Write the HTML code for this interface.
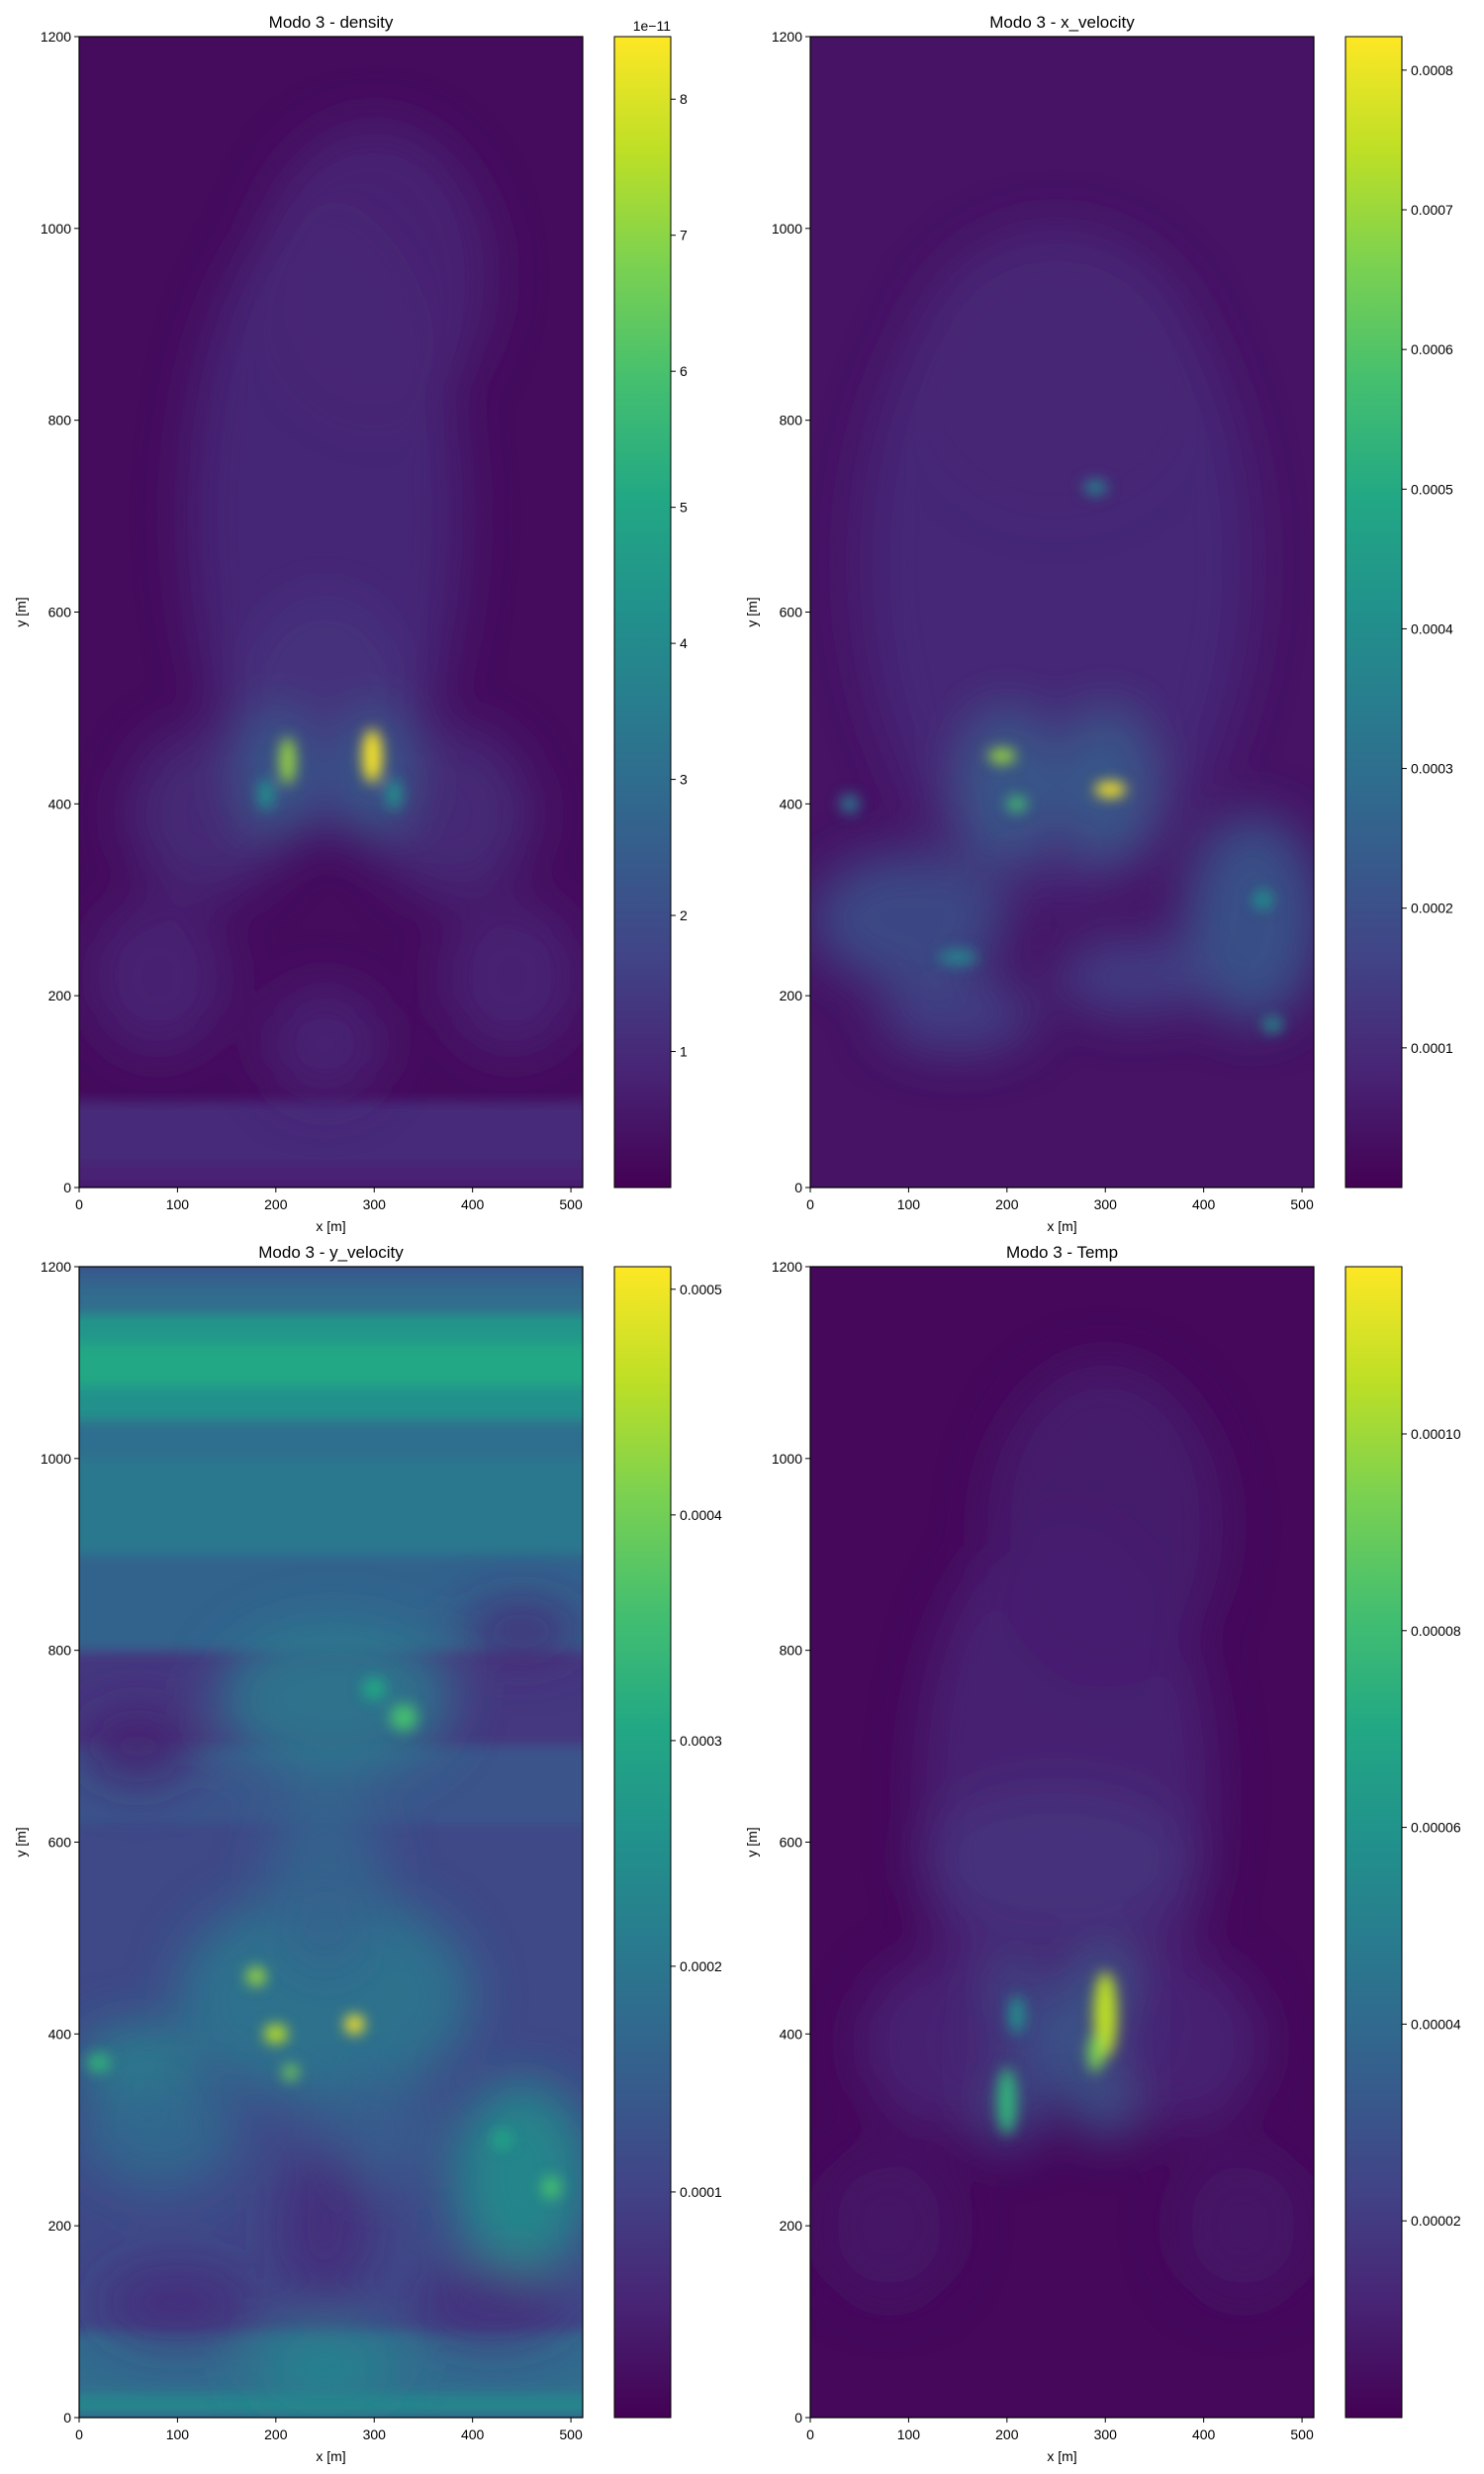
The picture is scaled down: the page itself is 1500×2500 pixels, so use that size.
<!DOCTYPE html>
<html><head><meta charset="utf-8"><style>
html,body{margin:0;padding:0;background:#fff;}
svg{display:block;font-family:"Liberation Sans",sans-serif;}
</style></head><body>
<svg id="fig" width="1500" height="2500" viewBox="0 0 1500 2500">
<defs>
<filter id="b1" x="-50%" y="-50%" width="200%" height="200%"><feGaussianBlur stdDeviation="25"/></filter>
<filter id="b2" x="-50%" y="-50%" width="200%" height="200%"><feGaussianBlur stdDeviation="7"/></filter>
<filter id="b3" x="-20%" y="-20%" width="140%" height="140%"><feGaussianBlur stdDeviation="6"/></filter>
</defs>
</svg>
<script>
const xTicks = [0,100,200,300,400,500];
const yTicks = [0,200,400,600,800,1000,1200];
const titles = ["Modo 3 - density","Modo 3 - x_velocity","Modo 3 - y_velocity","Modo 3 - Temp"];
const cbMin = [0,0,0,0];
const cbMax = [8.46,0.000824,0.000510,0.000117];
const cbTicks0 = [1,2,3,4,5,6,7,8];
const cbLabels0 = ["1","2","3","4","5","6","7","8"];
const cbTicks1 = [0.0001,0.0002,0.0003,0.0004,0.0005,0.0006,0.0007,0.0008];
const cbLabels1 = ["0.0001","0.0002","0.0003","0.0004","0.0005","0.0006","0.0007","0.0008"];
const cbTicks2 = [0.0001,0.0002,0.0003,0.0004,0.0005];
const cbLabels2 = ["0.0001","0.0002","0.0003","0.0004","0.0005"];
const cbTicks3 = [0.00002,0.00004,0.00006,0.00008,0.00010];
const cbLabels3 = ["0.00002","0.00004","0.00006","0.00008","0.00010"];
// field features: [x, y, rx, ry, level(0..1)]
const bg = [0.03,0.05,0.22,0.02];
const bands0 = [[0,25,0.1],[25,90,0.12]];
const bands1 = [];
const bands2 = [[1180,1200,0.3],[1150,1180,0.35],[1120,1150,0.52],[1075,1120,0.6],[1040,1075,0.5],[1000,1040,0.36],[900,1000,0.4],[800,900,0.32],[700,800,0.16],[620,700,0.26],[0,25,0.45],[25,90,0.35]];
const bands3 = [];
const blobs0 = [[250,700,140,330,0.12],[300,950,120,160,0.1],[130,390,80,90,0.13],[380,390,80,90,0.13],[80,220,70,80,0.1],[440,220,70,80,0.1],[250,500,90,120,0.15],[200,430,40,70,0.3],[300,430,40,70,0.3],[250,150,60,60,0.1]];
const spots0 = [[212,445,8,25,0.85],[298,450,10,28,1.0],[190,410,8,16,0.5],[320,410,8,16,0.5]];
const blobs1 = [[250,650,200,350,0.12],[200,420,50,80,0.3],[300,420,50,80,0.3],[100,280,100,70,0.25],[450,280,70,110,0.28],[250,850,150,150,0.1],[150,180,80,40,0.2],[330,220,80,40,0.2]];
const spots1 = [[195,450,14,8,0.85],[305,415,16,8,1.0],[210,400,10,8,0.7],[290,730,12,8,0.45],[460,300,10,10,0.5],[470,170,10,8,0.5],[40,400,10,10,0.4],[150,240,20,8,0.45]];
const blobs2 = [[250,440,150,110,0.4],[60,370,60,40,0.45],[450,250,70,100,0.5],[260,750,120,80,0.42],[80,300,80,60,0.35],[250,560,60,100,0.32],[300,300,60,60,0.3],[250,50,70,40,0.45],[60,700,60,40,0.08],[450,820,60,30,0.1],[250,200,50,80,0.12],[100,120,80,40,0.12],[420,120,80,40,0.12]];
const spots2 = [[200,400,12,10,0.9],[180,460,10,10,0.85],[280,410,10,10,1.0],[215,360,8,8,0.8],[330,730,14,14,0.7],[300,760,12,12,0.6],[480,240,10,12,0.7],[20,370,12,10,0.65],[430,290,10,10,0.6]];
const blobs3 = [[260,650,150,300,0.1],[300,930,120,170,0.08],[250,580,140,80,0.15],[200,380,50,100,0.25],[300,390,50,100,0.3],[130,390,80,90,0.1],[380,390,80,90,0.1],[80,200,70,80,0.06],[440,200,70,80,0.06]];
const spots3 = [[200,330,10,35,0.65],[300,420,12,45,0.9],[290,380,8,20,0.8],[210,420,8,20,0.5]];

const NS="http://www.w3.org/2000/svg";
const fig=document.getElementById('fig');
const VIR=["#440154","#482475","#414487","#355f8d","#2a788e","#21918c","#22a884","#44bf70","#7ad151","#bddf26","#fde725"];
function hex(h){return [1,3,5].map(i=>parseInt(h.substr(i,2),16));}
function vir(t){t=Math.max(0,Math.min(1,t));const f=t*10,i=Math.min(9,Math.floor(f)),r=f-i;const a=hex(VIR[i]),b=hex(VIR[i+1]);return "rgb("+a.map((v,k)=>Math.round(v+(b[k]-v)*r)).join(",")+")";}
function el(tag,attrs,parent){const e=document.createElementNS(NS,tag);for(const k in attrs)e.setAttribute(k,attrs[k]);(parent||fig).appendChild(e);return e;}
function txt(s,attrs,parent){const e=el('text',attrs,parent);e.textContent=s;return e;}

const panels=[
 {ax:80,ay:37,cx:621,bands:bands0,blobs:blobs0,spots:spots0,ticks:cbTicks0,labels:cbLabels0,exp:"1e\u221211"},
 {ax:819,ay:37,cx:1360,bands:bands1,blobs:blobs1,spots:spots1,ticks:cbTicks1,labels:cbLabels1},
 {ax:80,ay:1280,cx:621,bands:bands2,blobs:blobs2,spots:spots2,ticks:cbTicks2,labels:cbLabels2},
 {ax:819,ay:1280,cx:1360,bands:bands3,blobs:blobs3,spots:spots3,ticks:cbTicks3,labels:cbLabels3}
];
const AW=509,AH=1163,CW=57;
panels.forEach((p,i)=>{
  const g=el('g',{});
  
  
  const sx=v=>p.ax+v/512*AW, sy=v=>p.ay+AH-v/1200*AH;
  const cid='clip'+i;
  const cp=el('clipPath',{id:cid},g);el('rect',{x:p.ax,y:p.ay,width:AW,height:AH},cp);
  const hm=el('g',{'clip-path':'url(#'+cid+')'},g);
  
  
  el('rect',{x:p.ax,y:p.ay,width:AW,height:AH,fill:vir(bg[i])},hm);
  const bandG=el('g',{filter:'url(#b3)'},hm);
  p.bands.forEach(b=>{const r=el('rect',{x:p.ax-20,y:sy(b[1]),width:AW+40,height:sy(b[0])-sy(b[1]),fill:vir(b[2])},bandG);
    
    });
  const blobG=el('g',{filter:'url(#b1)'},hm);
  p.blobs.forEach(b=>{const e=el('ellipse',{cx:sx(b[0]),cy:sy(b[1]),rx:b[2]/512*AW,ry:b[3]/1200*AH,fill:vir(b[4]),opacity:0.85},blobG);
    
    });
  const spotG=el('g',{filter:'url(#b2)'},hm);
  p.spots.forEach(b=>{const e=el('ellipse',{cx:sx(b[0]),cy:sy(b[1]),rx:b[2]/512*AW,ry:b[3]/1200*AH,fill:vir(b[4])},spotG);
    
    });
  el('rect',{x:p.ax,y:p.ay,width:AW,height:AH,fill:'none',stroke:'#000','stroke-width':1.2},g);
  xTicks.forEach(t=>{el('line',{x1:sx(t),x2:sx(t),y1:p.ay+AH,y2:p.ay+AH+5,stroke:'#000'},g);
    const l=txt(String(t),{x:sx(t),y:p.ay+AH+22,'font-size':14,'text-anchor':'middle'},g);
    
    });
  yTicks.forEach(t=>{el('line',{x1:p.ax-5,x2:p.ax,y1:sy(t),y2:sy(t),stroke:'#000'},g);
    const l=txt(String(t),{x:p.ax-8,y:sy(t)+5,'font-size':14,'text-anchor':'end'},g);
    
    });
  const xl=txt('x [m]',{x:p.ax+AW/2,y:p.ay+AH+44,'font-size':14,'text-anchor':'middle'},g);
  
  
  const yl=txt('y [m]',{x:0,y:0,'font-size':14,'text-anchor':'middle',transform:'translate('+(p.ax-54)+','+(p.ay+AH/2)+') rotate(-90)'},g);
  
  
  const tt=txt(titles[i],{x:p.ax+AW/2,y:p.ay-9,'font-size':17,'text-anchor':'middle'},g);
  
  
  const gid='cg'+i;
  const lg=el('linearGradient',{id:gid,x1:0,y1:1,x2:0,y2:0},g);
  VIR.forEach((c,k)=>el('stop',{offset:k/10,'stop-color':c},lg));
  const cb=el('rect',{x:p.cx,y:p.ay,width:CW,height:AH,fill:'url(#'+gid+')',stroke:'#000','stroke-width':1},g);
  
  
  const cy=v=>p.ay+AH-(v-cbMin[i])/(cbMax[i]-cbMin[i])*AH;
  p.ticks.forEach((t,k)=>{el('line',{x1:p.cx+CW,x2:p.cx+CW+5,y1:cy(t),y2:cy(t),stroke:'#000'},g);
    const l=txt(p.labels[k],{x:p.cx+CW+9,y:cy(t)+5,'font-size':14},g);
    
    });
  if(p.exp){const e=txt(p.exp,{x:p.cx+CW,y:p.ay-6,'font-size':14,'text-anchor':'end'},g);
    
    }
});
</script>
</body></html>
